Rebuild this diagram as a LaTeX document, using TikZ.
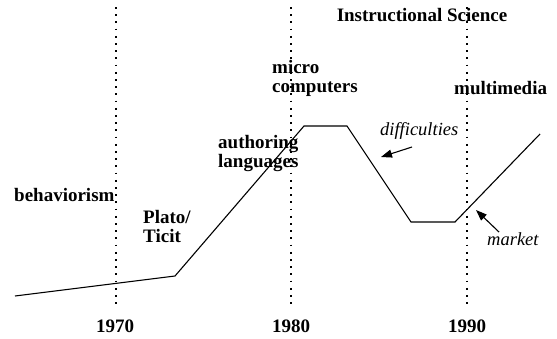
\documentclass[tikz,border=0pt]{standalone}
\usepackage{fontspec}
\setmainfont{Liberation Serif}
\usetikzlibrary{arrows.meta}
\begin{document}
\begin{tikzpicture}[x=1pt,y=-1pt,
  lbl/.style={font=\fontsize{19}{19}\selectfont\bfseries, inner sep=0pt, align=left},
  note/.style={font=\fontsize{18.5}{19}\selectfont\itshape, inner sep=0pt},
  yearline/.style={line width=1.2pt, dash pattern=on 1.8pt off 5.4pt},
  curve/.style={line width=1.1pt, line join=miter},
  pointer/.style={line width=1.1pt, -{Triangle[length=11pt,width=8pt]}}]
\useasboundingbox (0,0) rectangle (557,338);

% decade markers
\coordinate (t70) at (116,7);   \coordinate (b70) at (116,307);
\coordinate (t80) at (291,7);   \coordinate (b80) at (291,307);
\coordinate (t90) at (467,7);   \coordinate (b90) at (467,307);
\draw[yearline] (t70) -- (b70);
\draw[yearline] (t80) -- (b80);
\draw[yearline] (t90) -- (b90);

\node[lbl] (y70) at (115,326) {1970};
\node[lbl] (y80) at (291,326) {1980};
\node[lbl] (y90) at (467,326) {1990};

% development curve
\coordinate (c0) at (15,296);
\coordinate (c1) at (175,276);
\coordinate (c2) at (304,126);
\coordinate (c3) at (347,126);
\coordinate (c4) at (411,222);
\coordinate (c5) at (455,222);
\coordinate (c6) at (540,134);
\draw[curve] (c0) -- (c1) -- (c2) -- (c3) -- (c4) -- (c5) -- (c6);

% phases
\node[lbl, anchor=west] (beh) at (14,195) {behaviorism};
\node[lbl, anchor=north west] (plato) at (143,210) {Plato/\\Ticit};
\node[lbl, anchor=north west] (auth) at (218,135) {authoring\\languages};
\node[lbl, anchor=north west] (micro) at (272,60) {micro\\computers};
\node[lbl] (instr) at (422,15) {Instructional Science};
\node[lbl, anchor=west] (mm) at (454,88) {multimedia};

% annotations
\node[note, anchor=west] (diff) at (380,131) {difficulties};
\coordinate (dtail) at (412,147);
\coordinate (dhead) at (381,157);
\draw[pointer] (dtail) -- (dhead);

\node[note, anchor=west] (mkt) at (487,239) {market};
\coordinate (mtail) at (499,232);
\coordinate (mhead) at (476,210);
\draw[pointer] (mtail) -- (mhead);
\end{tikzpicture}
\end{document}
